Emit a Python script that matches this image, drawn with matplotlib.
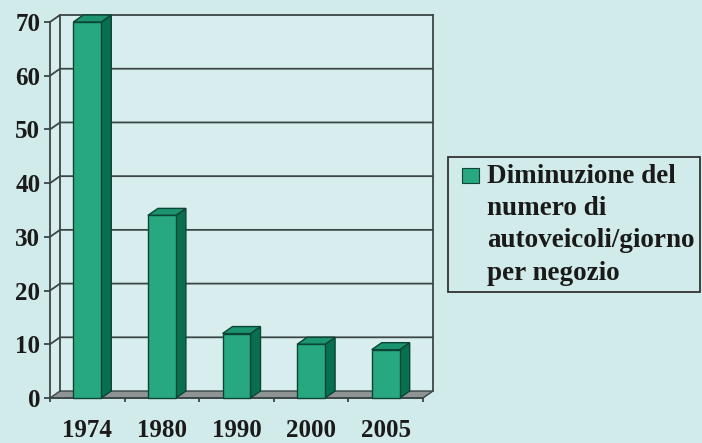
import matplotlib.pyplot as plt
from matplotlib.patches import Polygon, Rectangle

# data
years = ['1974', '1980', '1990', '2000', '2005']
values = [70, 34, 12, 10, 9]
series_name = 'Diminuzione del\nnumero di\nautoveicoli/giorno\nper negozio'
y_ticks = [0, 10, 20, 30, 40, 50, 60, 70]

plt.rcParams['font.family'] = ['Liberation Serif', 'DejaVu Serif']
plt.rcParams['font.weight'] = 'bold'

W, H = 702, 443
bg = '#d1eaea'
wall = '#d8eeee'
face = '#27a880'
side = '#087050'
top = '#1c9470'
edge = '#0c4535'
grid = '#3c4646'


def fpos(x, y):
    # pixel position -> figure fraction
    return x / W, 1 - y / H


fig = plt.figure(figsize=(W / 100, H / 100), dpi=100, facecolor=bg)
ax = fig.add_axes([50 / W, 45 / H, 373 / W, 376 / H])
ax.patch.set_visible(False)
n = len(years)
ax.set_xlim(-0.5, n - 0.5)
ax.set_ylim(0, y_ticks[-1])

# depth of the 3d box in data units
dx = 10 / 74.6
dy = 1.3
bw = 0.375
x0, x1 = -0.5, n - 0.5
ymax = y_ticks[-1]

# back wall, left wall and floor
ax.add_patch(Polygon([(x0 + dx, dy), (x1 + dx, dy), (x1 + dx, ymax + dy), (x0 + dx, ymax + dy)],
                     closed=True, facecolor=wall, edgecolor='none', zorder=0, clip_on=False))
ax.add_patch(Polygon([(x0, 0), (x0 + dx, dy), (x0 + dx, ymax + dy), (x0, ymax)],
                     closed=True, facecolor=wall, edgecolor='none', zorder=0, clip_on=False))
ax.add_patch(Polygon([(x0, 0), (x1, 0), (x1 + dx, dy), (x0 + dx, dy)],
                     closed=True, facecolor='#8e9494', edgecolor=grid, lw=1, zorder=1, clip_on=False))

# gridlines
for t in y_ticks[1:]:
    ax.plot([x0, x0 + dx, x1 + dx], [t, t + dy, t + dy], color=grid, lw=1.3, zorder=1, clip_on=False)
ax.plot([x0 + dx, x0 + dx], [dy, ymax + dy], color=grid, lw=1.3, zorder=1, clip_on=False)
ax.plot([x1 + dx, x1 + dx], [dy, ymax + dy], color=grid, lw=1.3, zorder=1, clip_on=False)

# bars
for i, v in enumerate(values):
    l, r = i - bw / 2, i + bw / 2
    ax.add_patch(Polygon([(r, 0), (r + dx, dy), (r + dx, v + dy), (r, v)], closed=True,
                         facecolor=side, edgecolor=edge, lw=1, zorder=3, clip_on=False))
    ax.add_patch(Polygon([(l, v), (r, v), (r + dx, v + dy), (l + dx, v + dy)], closed=True,
                         facecolor=top, edgecolor=edge, lw=1, zorder=3, clip_on=False))
    ax.add_patch(Rectangle((l, 0), bw, v, facecolor=face, edgecolor=edge, lw=1, zorder=3, clip_on=False))

# axes and ticks
for s in ['top', 'right']:
    ax.spines[s].set_visible(False)
for s in ['left', 'bottom']:
    ax.spines[s].set_color(grid)
    ax.spines[s].set_linewidth(1.3)
ax.set_yticks(y_ticks)
ax.set_xticks(range(n))
ax.set_xticklabels(years)
ax.set_xticks([i - 0.5 for i in range(n + 1)], minor=True)
ax.tick_params(axis='y', length=4, width=1.3, color=grid, pad=3, labelsize=18, labelcolor='#1a1a1a')
ax.tick_params(axis='x', which='major', length=0, pad=15, labelsize=18, labelcolor='#1a1a1a')
ax.tick_params(axis='x', which='minor', length=3, width=1.3, color=grid)

# legend box
lx, ly = fpos(448, 292)
lw_, lh_ = 252 / W, 135 / H
fig.add_artist(Rectangle((lx, ly), lw_, lh_, transform=fig.transFigure,
                         facecolor=bg, edgecolor='#333333', lw=1.3))
sx, sy = fpos(462, 183)
fig.add_artist(Rectangle((sx, sy), 17 / W, 15 / H, transform=fig.transFigure,
                         facecolor=face, edgecolor=edge, lw=0.8))
tx, ty = fpos(487, 164)
fig.text(tx, ty, series_name, ha='left', va='top', fontsize=19.5, linespacing=1.38, color='#1a1a1a')

plt.savefig('out.png', dpi=100, facecolor=bg)
